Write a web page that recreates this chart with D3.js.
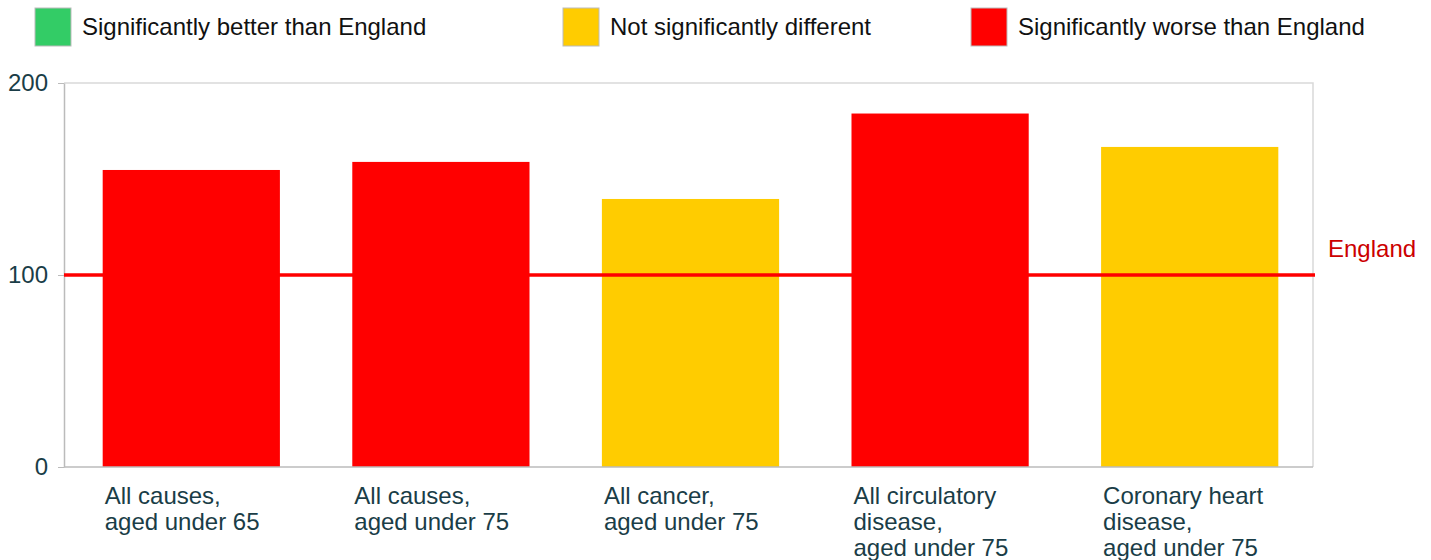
<!DOCTYPE html>
<html>
<head>
<meta charset="utf-8">
<script src="https://cdn.jsdelivr.net/npm/d3@7"></script>
<style>
  body { margin: 0; background: #fff; }
  text { font-family: "Liberation Sans", Arial, sans-serif; }
</style>
</head>
<body>
<svg id="chart" width="1431" height="560"></svg>
<script>
// categories and values
const categories = [
  ["All causes,", "aged under 65"],
  ["All causes,", "aged under 75"],
  ["All cancer,", "aged under 75"],
  ["All circulatory", "disease,", "aged under 75"],
  ["Coronary heart", "disease,", "aged under 75"]
];
const values = [154.7, 158.9, 139.6, 184.1, 166.7];
const status = ["worse", "worse", "similar", "worse", "similar"];
const englandValue = 100;
const yTicks = [0, 100, 200];

const legendItems = [
  { key: "better", label: "Significantly better than England" },
  { key: "similar", label: "Not significantly different" },
  { key: "worse", label: "Significantly worse than England" }
];

//status colours
const colour = d3.scaleOrdinal()
  .domain(["better", "similar", "worse"])
  .range(["#33cc66", "#ffcc00", "#ff0000"]);

const fontSize = "24px";
const svg = d3.select("#chart");
const margin = { top: 83, left: 64, right: 118, bottom: 93 };
const width = 1431 - margin.left - margin.right;
const height = 560 - margin.top - margin.bottom;

const g = svg.append("g").attr("transform", `translate(${margin.left},${margin.top})`);

// bands run a touch past the frame, as in the original
const x = d3.scaleBand()
  .domain(d3.range(categories.length))
  .range([0, width + 4])
  .paddingInner(0.29)
  .paddingOuter(0.155);

const y = d3.scaleLinear().domain([0, 200]).range([height, 0]);

// plot frame (top and right, light grey)
g.append("path")
  .attr("d", `M0,0H${width}V${height}`)
  .attr("fill", "none")
  .attr("stroke", "#d9d9d9")
  .attr("stroke-width", 1.5);

// bars
g.selectAll(".bar")
  .data(values)
  .enter().append("rect")
  .attr("class", "bar")
  .attr("x", (d, i) => x(i))
  .attr("y", d => y(d))
  .attr("width", x.bandwidth())
  .attr("height", d => height - y(d))
  .attr("fill", (d, i) => colour(status[i]));

// y axis
const yAxis = g.append("g")
  .call(d3.axisLeft(y).tickValues(yTicks).tickSize(6).tickSizeOuter(0).tickPadding(10));
yAxis.select(".domain").attr("stroke", "#bbbbbb").attr("stroke-width", 1.5);
yAxis.selectAll(".tick line").attr("stroke", "#bbbbbb");
yAxis.selectAll(".tick text")
  .attr("fill", "#1a3d47")
  .style("font-size", fontSize)
  .attr("dy", "0.3em");

// x axis baseline
g.append("line")
  .attr("x1", 0).attr("x2", width)
  .attr("y1", height).attr("y2", height)
  .attr("stroke", "#bbbbbb")
  .attr("stroke-width", 1.5);

// category labels, left aligned under each bar
const labels = g.selectAll(".cat")
  .data(categories)
  .enter().append("text")
  .attr("class", "cat")
  .attr("fill", "#1a3d47")
  .style("font-size", fontSize)
  .attr("transform", (d, i) => `translate(${x(i) + 2},${height + 37})`);
labels.selectAll("tspan")
  .data(d => d)
  .enter().append("tspan")
  .attr("x", 0)
  .attr("y", (d, i) => i * 26)
  .text(d => d);

// England reference line
g.append("line")
  .attr("x1", 0).attr("x2", width + 2)
  .attr("y1", y(englandValue)).attr("y2", y(englandValue))
  .attr("stroke", "#ff0000")
  .attr("stroke-width", 3.5);

g.append("text")
  .attr("x", width + 15)
  .attr("y", y(englandValue) - 18)
  .attr("fill", "#cc0000")
  .style("font-size", fontSize)
  .text("England");

// legend
const legendX = [35, 563, 971];
const legend = svg.selectAll(".legend")
  .data(legendItems)
  .enter().append("g")
  .attr("class", "legend")
  .attr("transform", (d, i) => `translate(${legendX[i]},8)`);
legend.append("rect")
  .attr("width", 36).attr("height", 38)
  .attr("fill", d => colour(d.key))
  .attr("stroke", "#bbbbbb")
  .attr("stroke-width", 1);
legend.append("text")
  .attr("x", 47)
  .attr("y", 27)
  .attr("fill", "#111")
  .style("font-size", fontSize)
  .text(d => d.label);
</script>
</body>
</html>
